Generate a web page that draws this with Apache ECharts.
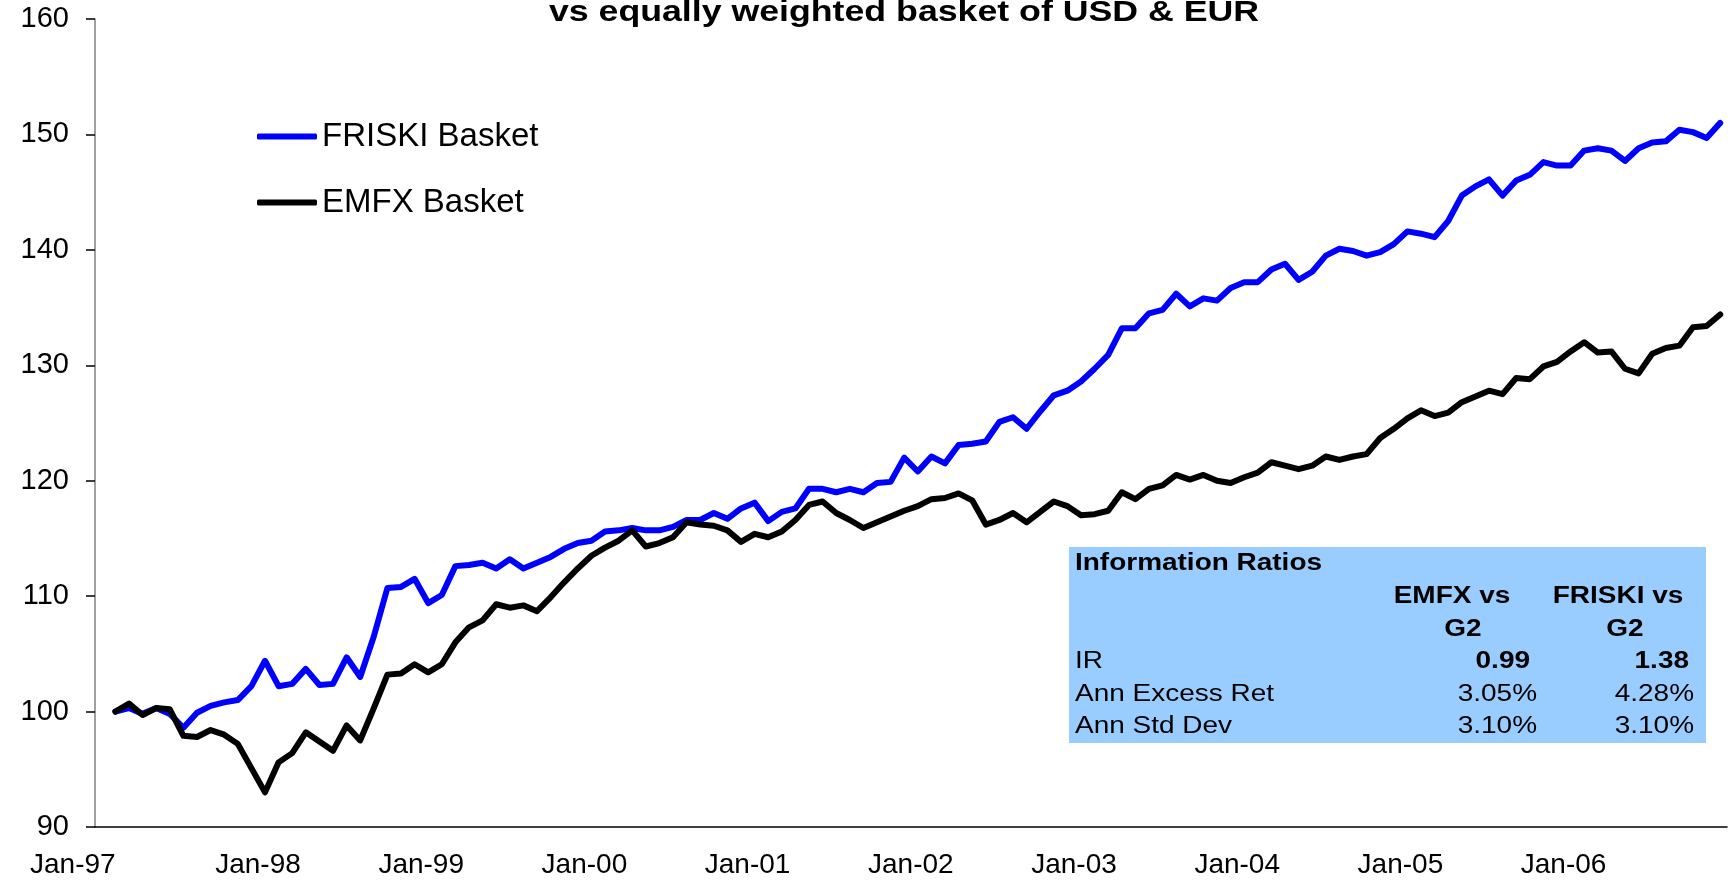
<!DOCTYPE html>
<html>
<head>
<meta charset="utf-8">
<script src="https://cdn.jsdelivr.net/npm/echarts@6/dist/echarts.min.js"></script>
<style>
  html, body { margin: 0; padding: 0; background: #fff; }
  #chart { width: 1733px; height: 889px; }
</style>
</head>
<body>
<div id="chart"></div>
<script>
// categories: one per month, Jan-97 .. Dec-06 (first slot has no value)
const years = ["97", "98", "99", "00", "01", "02", "03", "04", "05", "06"];
const monthNames = ["Jan", "Feb", "Mar", "Apr", "May", "Jun", "Jul", "Aug", "Sep", "Oct", "Nov", "Dec"];

// FRISKI basket, monthly from Feb-97
const friski = [
  100.0, 100.3, 99.8, 100.3, 99.8, 98.6, 99.9, 100.5, 100.8, 101.0,
  102.2, 104.4, 102.2, 102.4, 103.7, 102.3, 102.4, 104.7, 103.0, 106.5,
  110.7, 110.8, 111.5, 109.4, 110.1, 112.6, 112.7, 112.9, 112.4, 113.2,
  112.4, 112.9, 113.4, 114.1, 114.6, 114.8, 115.6, 115.7, 115.9, 115.7,
  115.7, 116.0, 116.6, 116.6, 117.2, 116.7, 117.6, 118.1, 116.5, 117.3,
  117.6, 119.3, 119.3, 119.0, 119.3, 119.0, 119.8, 119.9, 122.0, 120.8,
  122.1, 121.5, 123.1, 123.2, 123.4, 125.1, 125.5, 124.5, 126.0, 127.4,
  127.8, 128.6, 129.7, 130.9, 133.2, 133.2, 134.5, 134.8, 136.2, 135.1,
  135.8, 135.6, 136.7, 137.2, 137.2, 138.3, 138.8, 137.4, 138.1,
  139.5, 140.1, 139.9, 139.5, 139.8, 140.5, 141.6, 141.4, 141.1, 142.5,
  144.7, 145.5, 146.1, 144.7, 146.0, 146.5, 147.6, 147.3, 147.3, 148.6,
  148.8, 148.6, 147.7, 148.8, 149.3, 149.4, 150.4, 150.2, 149.7, 151.0
];

// EMFX basket, monthly from Feb-97
const emfx = [
  100.0, 100.7, 99.7, 100.3, 100.2, 97.9, 97.8, 98.4, 98.0, 97.2,
  95.1, 93.0, 95.6, 96.4, 98.2, 97.4, 96.6, 98.8, 97.5, 100.3,
  103.2, 103.3, 104.1, 103.4, 104.1, 106.0, 107.3, 107.9, 109.3, 109.0,
  109.2, 108.7, 109.9, 111.2, 112.4, 113.5, 114.2, 114.8, 115.7, 114.3,
  114.6, 115.1, 116.4, 116.2, 116.1, 115.7, 114.7, 115.4, 115.1, 115.6,
  116.6, 117.9, 118.2, 117.2, 116.6, 115.9, 116.4, 116.9, 117.4, 117.8,
  118.4, 118.5, 118.9, 118.3, 116.2, 116.6, 117.2, 116.4, 117.3, 118.2,
  117.8, 117.0, 117.1, 117.4, 119.0, 118.4, 119.3, 119.6, 120.5, 120.1,
  120.5, 120.0, 119.8, 120.3, 120.7, 121.6, 121.3, 121.0, 121.3,
  122.1, 121.8, 122.1, 122.3, 123.7, 124.5, 125.4, 126.1, 125.6, 125.9,
  126.8, 127.3, 127.8, 127.5, 128.9, 128.8, 129.9, 130.3, 131.2, 132.0,
  131.1, 131.2, 129.7, 129.3, 131.0, 131.5, 131.7, 133.3, 133.4, 134.4
];

// information ratio table
const statNames = ["IR", "Ann Excess Ret", "Ann Std Dev"];
const emfxStats = ["0.99", "3.05%", "3.10%"];
const friskiStats = ["1.38", "4.28%", "3.10%"];

const months = [];
years.forEach((y) => {
  monthNames.forEach((m) => months.push(m + "-" + y));
});

const FONT = '"Liberation Sans", Arial, sans-serif';
const chart = echarts.init(document.getElementById("chart"));

// table text helper (text in the source is slightly stretched wide)
function cell(text, x, y, align, bold) {
  return {
    type: "text",
    x: x,
    y: y,
    scaleX: 1.19,
    style: {
      text: text,
      font: (bold ? "bold " : "") + "23.5px " + FONT,
      fill: "#000",
      align: align,
      verticalAlign: "middle",
    },
  };
}

const rowY = [661.7, 695, 726.7];
const tableEls = [
  { type: "rect", shape: { x: 1069, y: 547, width: 637, height: 196 }, style: { fill: "#99CCFF" } },
  cell("Information Ratios", 1075, 563.5, "left", true),
  cell("EMFX vs", 1452, 596.7, "center", true),
  cell("G2", 1463, 630, "center", true),
  cell("FRISKI vs", 1618, 596.7, "center", true),
  cell("G2", 1625, 630, "center", true),
];
statNames.forEach((name, i) => {
  tableEls.push(cell(name, 1075, rowY[i], "left", false));
  tableEls.push(cell(emfxStats[i], i === 0 ? 1530 : 1537, rowY[i], "right", i === 0));
  tableEls.push(cell(friskiStats[i], i === 0 ? 1689 : 1694, rowY[i], "right", i === 0));
});

const option = {
  animation: false,
  backgroundColor: "#fff",
  textStyle: { fontFamily: FONT },
  grid: { left: 95, right: 6, top: 19, bottom: 62 },
  legend: {
    orient: "vertical",
    left: 257,
    top: 120,
    padding: 0,
    icon: "roundRect",
    itemWidth: 60,
    itemHeight: 6,
    itemGap: 33,
    textStyle: { fontSize: 33, lineHeight: 33, color: "#000", fontFamily: FONT },
    data: ["FRISKI Basket", "EMFX Basket"],
  },
  xAxis: {
    type: "category",
    data: months,
    boundaryGap: true,
    axisLine: { lineStyle: { color: "#000", width: 1.5 } },
    axisTick: { interval: 11, length: 9, lineStyle: { color: "#000", width: 1.5 } },
    axisLabel: {
      interval: 11,
      margin: 24,
      fontSize: 28,
      color: "#000",
      fontFamily: FONT,
      padding: [0, 14, 0, 0],
      formatter: (value, index) => (index === 0 ? "{first|" + value + "}" : value),
      rich: {
        first: { fontSize: 28, color: "#000", fontFamily: FONT, padding: [0, 44, 0, 0] },
      },
    },
    splitLine: { show: false },
  },
  yAxis: {
    type: "value",
    min: 90,
    max: 160,
    interval: 10,
    axisLine: { show: true, lineStyle: { color: "#808080", width: 1.5 } },
    axisTick: { show: true, length: 9, lineStyle: { color: "#000", width: 1.5 } },
    axisLabel: { margin: 26, fontSize: 29, color: "#000", fontFamily: FONT },
    splitLine: { show: false },
  },
  series: [
    {
      name: "FRISKI Basket",
      type: "line",
      symbol: "none",
      data: friski.map((v, i) => [i + 1, v]),
      lineStyle: { color: "#0000FF", width: 6, cap: "round", join: "round" },
      itemStyle: { color: "#0000FF" },
      z: 2,
    },
    {
      name: "EMFX Basket",
      type: "line",
      symbol: "none",
      data: emfx.map((v, i) => [i + 1, v]),
      lineStyle: { color: "#000000", width: 6, cap: "round", join: "round" },
      itemStyle: { color: "#000000" },
      z: 3,
    },
  ],
  graphic: [
    {
      type: "text",
      x: 904,
      y: 12.7,
      scaleX: 1.19,
      style: {
        text: "vs equally weighted basket of USD & EUR",
        font: "bold 30px " + FONT,
        fill: "#000",
        align: "center",
        verticalAlign: "middle",
      },
    },
  ].concat(tableEls),
};

chart.setOption(option);
</script>
</body>
</html>
